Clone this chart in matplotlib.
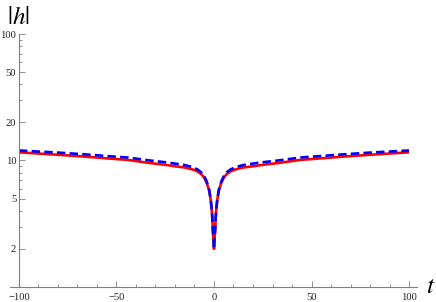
import matplotlib
matplotlib.use('Agg')
import matplotlib.pyplot as plt
from matplotlib.ticker import FixedLocator, NullFormatter

# valores (simetricos em t)
t_pos = [0, 0.15, 0.3, 0.6, 0.9, 1.3, 1.7, 2.5, 3.8, 5, 6.5, 8.5, 11, 15, 20, 24, 34, 44, 55, 65, 80, 100]
h_vermelho = [2.0, 2.2, 2.4, 2.85, 3.6, 4.3, 4.9, 5.8, 6.7, 7.3, 7.8, 8.2, 8.5, 8.8, 9.0, 9.2, 9.6, 10.1, 10.4, 10.7, 11.1, 11.6]
h_azul = [2.0, 2.2, 2.4, 2.85, 3.6, 4.3, 4.95, 5.9, 6.85, 7.5, 8.05, 8.5, 8.85, 9.2, 9.45, 9.65, 10.05, 10.55, 10.85, 11.15, 11.55, 12.0]

t = [-x for x in t_pos[::-1]] + t_pos[1:]
vermelho = h_vermelho[::-1] + h_vermelho[1:]
azul = h_azul[::-1] + h_azul[1:]

y_ticks = [2, 5, 10, 20, 50, 100]
y_minor = [1, 3, 4, 6, 7, 8, 9, 30, 40, 60, 70, 80, 90]
x_ticks = [-100, -50, 0, 50, 100]
x_minor = [-90, -80, -70, -60, -40, -30, -20, -10, 10, 20, 30, 40, 60, 70, 80, 90]

plt.rcParams['mathtext.fontset'] = 'stix'
fig = plt.figure(figsize=(4.36, 3.02), dpi=100)
ax = fig.add_axes([0.0234, 0.0497, 0.9326, 0.8377])

ax.plot(t, vermelho, color='#ff0000', lw=1.9, solid_capstyle='butt', solid_joinstyle='round')
ax.plot(t, azul, color='#0000ff', lw=1.9, dashes=(3.2, 1.6))

ax.set_yscale('log')
ax.set_xlim(-104.5, 104)
ax.set_ylim(1, 100)

ax.spines['top'].set_visible(False)
ax.spines['right'].set_visible(False)
ax.spines['left'].set_position(('data', -100))
for s in ('left', 'bottom'):
    ax.spines[s].set_color('#808080')
    ax.spines[s].set_linewidth(0.8)

ax.yaxis.set_major_locator(FixedLocator(y_ticks))
ax.yaxis.set_minor_locator(FixedLocator(y_minor))
ax.set_yticklabels([str(v) for v in y_ticks])
ax.yaxis.set_minor_formatter(NullFormatter())
ax.xaxis.set_major_locator(FixedLocator(x_ticks))
ax.xaxis.set_minor_locator(FixedLocator(x_minor))
ax.set_xticklabels(['\u2212100', '\u221250', '0', '50', '100'])

ax.tick_params(which='both', direction='in', color='#808080', width=0.6,
               labelsize=7.6, labelcolor='#222222')
ax.tick_params(which='major', length=4)
ax.tick_params(which='minor', length=2.5)
ax.tick_params(axis='y', pad=2)
ax.tick_params(axis='x', pad=4.5)
for lb in ax.get_xticklabels() + ax.get_yticklabels():
    lb.set_family('Liberation Serif')

fig.text(0.042, 0.944, r'$|h|$', fontsize=18, ha='center', va='center')
fig.text(0.988, 0.053, r'$t$', fontsize=18, ha='center', va='center')

fig.savefig('out.png', dpi=100)
